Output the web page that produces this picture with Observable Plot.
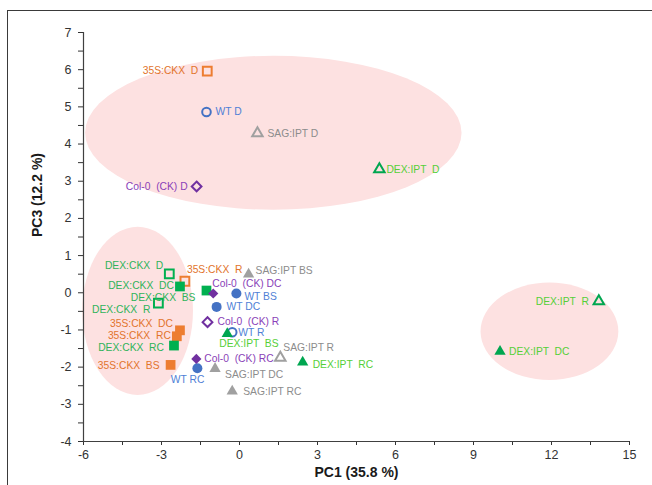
<!DOCTYPE html>
<html><head><meta charset="utf-8">
<script src="https://cdn.jsdelivr.net/npm/d3@7"></script>
<script src="https://cdn.jsdelivr.net/npm/@observablehq/plot@0.6"></script>
<style>
body{margin:0;background:#fff;}
#wrap{position:relative;width:652px;height:485px;overflow:hidden;}
#frame{position:absolute;left:7px;top:10px;width:700px;height:600px;border-top:1.5px solid #3a3a3a;border-left:1.5px solid #3a3a3a;pointer-events:none;}
#chart svg text{white-space:pre;}
</style></head><body>
<div id="wrap"><div id="chart"></div><div id="frame"></div></div>
<script>
// ---- data ----
const names = ["35S:CKX  D","WT D","SAG:IPT D","Col-0  (CK) D","DEX:IPT  D","DEX:IPT  R","DEX:IPT  DC",
  "DEX:CKX  D","35S:CKX  R","DEX:CKX  DC","DEX:CKX  BS","DEX:CKX  R","35S:CKX  DC","35S:CKX  RC","DEX:CKX  RC","35S:CKX  BS",
  "Col-0  (CK) DC","WT BS","WT DC","Col-0  (CK) R","WT R","DEX:IPT  BS","Col-0  (CK) RC","WT RC","SAG:IPT DC",
  "SAG:IPT BS","SAG:IPT R","DEX:IPT  RC","SAG:IPT RC"];
const pc1 = [-1.24,-1.27,0.69,-1.65,5.38,13.82,10.02,
  -2.70,-2.10,-2.29,-1.27,-3.12,-2.29,-2.41,-2.52,-2.65,
  -1.01,-0.12,-0.88,-1.23,-0.28,-0.47,-1.66,-1.62,-0.94,
  0.35,1.57,2.43,-0.28];
const pc3 = [5.96,4.86,4.29,2.86,3.32,-0.23,-1.58,
  0.51,0.31,0.17,0.06,-0.28,-1.01,-1.17,-1.42,-1.94,
  -0.02,-0.02,-0.38,-0.79,-1.06,-1.10,-1.78,-2.03,-2.04,
  0.50,-1.75,-1.87,-2.65];
const genotype = ["35S:CKX","WT","SAG:IPT","Col-0 (CK)","DEX:IPT","DEX:IPT","DEX:IPT",
  "DEX:CKX","35S:CKX","DEX:CKX","DEX:CKX","DEX:CKX","35S:CKX","35S:CKX","DEX:CKX","35S:CKX",
  "Col-0 (CK)","WT","WT","Col-0 (CK)","WT","DEX:IPT","Col-0 (CK)","WT","SAG:IPT",
  "SAG:IPT","SAG:IPT","DEX:IPT","SAG:IPT"];
const filled = [false,false,false,false,false,false,true,
  false,false,true,true,false,true,true,true,true,
  true,true,true,false,false,true,true,true,true,
  true,false,true,true];

// clusters (ellipses in data units)
const clusterCx = [1.32,-3.90,11.94];
const clusterCy = [4.29,-0.50,-1.05];
const clusterRx = [7.24,2.13,2.65];
const clusterRy = [2.07,2.26,1.31];

const xTicks = d3.range(-6, 15.01, 1.5);
const yTicks = d3.range(-4, 7.01, 0.5);
const xTitle = "PC1 (35.8 %)";
const yTitle = "PC3 (12.2 %)";

// ---- styles ----
const style = {
  "35S:CKX":    {marker:"#ED7D31", label:"#E2742C", filledSym:"square",  openSym:"square2",  rf:5.5, ro:5.6},
  "DEX:CKX":    {marker:"#00B050", label:"#2FB35A", filledSym:"square",  openSym:"square2",  rf:5.5, ro:5.6},
  "WT":         {marker:"#4472C4", label:"#4F7FD6", filledSym:"circle",  openSym:"circle",   rf:5.0, ro:4.3},
  "Col-0 (CK)": {marker:"#7030A0", label:"#8A3FB8", filledSym:"diamond2",openSym:"diamond2", rf:4.6, ro:4.4},
  "SAG:IPT":    {marker:"#A0A0A0", label:"#8C8C8C", filledSym:"triangle",openSym:"triangle2",rf:4.2, ro:5.0},
  "DEX:IPT":    {marker:"#00A650", label:"#55CF38", filledSym:"triangle",openSym:"triangle2",rf:4.2, ro:5.0}
};
// label placement: [textAnchor, dx, dy] in pixels
const place = {
  "35S:CKX  D":["end",-9,0], "WT D":["start",9,0], "SAG:IPT D":["start",10,0], "Col-0  (CK) D":["end",-9,0],
  "DEX:IPT  D":["start",7,0], "DEX:IPT  R":["end",-10,0], "DEX:IPT  DC":["start",9,0],
  "DEX:CKX  D":["end",-6,-8], "35S:CKX  R":["start",2,-12], "DEX:CKX  DC":["end",-6,-1], "DEX:CKX  BS":["end",-11,7],
  "DEX:CKX  R":["end",-8,7], "35S:CKX  DC":["end",-7,-7], "35S:CKX  RC":["end",-6,-1], "DEX:CKX  RC":["end",-10,2],
  "35S:CKX  BS":["end",-11,1], "Col-0  (CK) DC":["start",-1,-10], "WT BS":["start",8,3], "WT DC":["start",10,0],
  "Col-0  (CK) R":["start",10,0], "WT R":["start",6,1], "DEX:IPT  BS":["start",-8,10], "Col-0  (CK) RC":["start",8,0],
  "WT RC":["end",7,11], "SAG:IPT DC":["start",10,6], "SAG:IPT BS":["start",7,-3], "SAG:IPT R":["start",3,-10],
  "DEX:IPT  RC":["start",10,2], "SAG:IPT RC":["start",11,0]
};

const data = names.map((n, i) => ({name:n, x:pc1[i], y:pc3[i], g:genotype[i], f:filled[i]}));
const clusters = clusterCx.map((cx, i) => ({cx, cy:clusterCy[i], rx:clusterRx[i], ry:clusterRy[i]}));

const ellipseMark = (index, scales) => {
  const sx = scales.x, sy = scales.y;
  const g = d3.create("svg:g");
  for (const c of clusters) {
    g.append("ellipse")
      .attr("cx", sx(c.cx)).attr("cy", sy(c.cy))
      .attr("rx", Math.abs(sx(c.cx + c.rx) - sx(c.cx)))
      .attr("ry", Math.abs(sy(c.cy + c.ry) - sy(c.cy)))
      .attr("fill", "#FDE1E1");
  }
  return g.node();
};

const dotMarks = [];
for (const g of Object.keys(style)) {
  const s = style[g];
  const fd = data.filter(d => d.g === g && d.f);
  const od = data.filter(d => d.g === g && !d.f);
  if (od.length) dotMarks.push(Plot.dot(od, {x:"x", y:"y", symbol:s.openSym, r:s.ro, fill:"none", stroke:s.marker, strokeWidth:2}));
  if (fd.length) dotMarks.push(Plot.dot(fd, {x:"x", y:"y", symbol:s.filledSym, r:s.rf, fill:s.marker, stroke:"none"}));
}
const textMarks = data.map(d => {
  const p = place[d.name] || ["start",8,0];
  return Plot.text([d], {x:"x", y:"y", text:"name", textAnchor:p[0], dx:p[1], dy:p[2], fill:style[d.g].label, fontSize:10.3});
});

const chart = Plot.plot({
  width:652, height:485,
  marginLeft:83, marginRight:23, marginTop:32, marginBottom:44,
  x:{domain:[-6,15]}, y:{domain:[-4,7]},
  style:{fontFamily:"'Liberation Sans', Arial, sans-serif", fontSize:"12px", background:"transparent", overflow:"visible"},
  marks:[
    ellipseMark,
    Plot.axisX({ticks:xTicks, tickFormat:d => Number.isInteger(d/3) ? String(d) : "", tickSize:4, tickPadding:5, label:null, color:"#333", fontSize:12.5}),
    Plot.axisY({ticks:yTicks, tickFormat:d => Number.isInteger(d) ? String(d) : "", tickSize:5, tickPadding:7, label:null, color:"#333", fontSize:12.5}),
    Plot.ruleX([-6], {stroke:"#404040", strokeWidth:1.2}),
    Plot.ruleY([-4], {stroke:"#404040", strokeWidth:1.2}),
    ...dotMarks,
    ...textMarks,
    Plot.text([xTitle], {text:d => d, frameAnchor:"bottom", dy:35, fontWeight:"bold", fontSize:14, fill:"#1a1a1a"}),
    Plot.text([yTitle], {text:d => d, frameAnchor:"left", rotate:-90, dx:-46, fontWeight:"bold", fontSize:14, fill:"#1a1a1a"})
  ]
});
document.getElementById("chart").appendChild(chart);
</script>
</body></html>
